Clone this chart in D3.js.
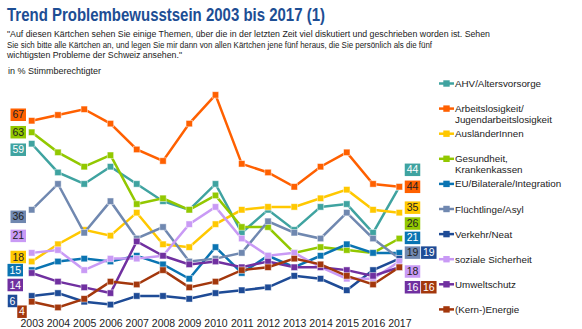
<!DOCTYPE html>
<html>
<head>
<meta charset="utf-8">
<script src="https://cdn.jsdelivr.net/npm/d3@7"></script>
<style>
  body { margin: 0; background: #fff; }
  text { font-family: "Liberation Sans", Arial, sans-serif; }
</style>
</head>
<body>
<script>
// data
var years = [2003, 2004, 2005, 2006, 2007, 2008, 2009, 2010, 2011, 2012, 2013, 2014, 2015, 2016, 2017];

var seriesNames = ["AHV/Altersvorsorge", "Arbeitslosigkeit/\nJugendarbeitslosigkeit", "AusländerInnen",
  "Gesundheit,\nKrankenkassen", "EU/Bilaterale/Integration", "Flüchtlinge/Asyl", "Verkehr/Neat",
  "soziale Sicherheit", "Umweltschutz", "(Kern-)Energie"];

var seriesColors = ["#3fa3a0", "#ff6000", "#ffc800", "#92c800", "#0a74b2", "#7088b0", "#1e4b96", "#c99af5", "#7030a0", "#a3370c"];
var labelTextColors = ["#fff", "#222", "#222", "#222", "#fff", "#222", "#fff", "#222", "#fff", "#fff"];

var ahv          = [59, 49, 45, 51, 45, 39, 36, 45, 28, 36, 29, 37, 38, 28, 44];
var arbeitslos   = [67, 69, 71, 66, 57, 53, 66, 76, 52, 49, 44, 51, 56, 45, 44];
var auslaender   = [18, 24, 29, 27, 35, 24, 23, 31, 36, 37, 37, 40, 43, 36, 35];
var gesundheit   = [63, 56, 51, 55, 38, 40, 36, 41, 30, 30, 21, 23, 22, 21, 26];
var eu           = [15, 18, 19, 18, 20, 17, 12, 23, 14, 20, 16, 20, 24, 21, 21];
var fluechtlinge = [36, 45, 28, 39, 26, 30, 18, 19, 21, 32, 28, 26, 35, 26, 19];
var verkehr      = [6, 7, 4, 3, 6, 6, 5, 7, 8, 9, 13, 12, 8, 15, 19];
var sozial       = [21, 22, 15, 19, 19, 20, 31, 37, 26, 20, 21, 16, 12, 12, 18];
var umwelt       = [14, 11, 9, 7, 25, 20, 17, 18, 16, 18, 16, 16, 15, 13, 16];
var energie      = [4, 2, 5, 11, 10, 15, 9, 11, 15, 16, 19, 17, 13, 10, 16];

var allSeries = [ahv, arbeitslos, auslaender, gesundheit, eu, fluechtlinge, verkehr, sozial, umwelt, energie];

// label placement (pixel nudges so the value boxes don't overlap)
var leftNudge = [
  {dx: 0, dy: 6}, {dx: 0, dy: -6}, {dx: 0, dy: -4.5}, {dx: 0, dy: 0}, {dx: -3, dy: 0},
  {dx: 0, dy: 7}, {dx: -8.75, dy: 5}, {dx: 0, dy: -17}, {dx: -3, dy: 12}, {dx: 0.75, dy: 10}
];
var rightNudge = [
  {col: 0, dy: -17}, {col: 0, dy: 0}, {col: 0, dy: -5}, {col: 0, dy: -15}, {col: 0, dy: -15},
  {col: 0, dy: -6}, {col: 1, dy: -6}, {col: 0, dy: 10}, {col: 0, dy: 20}, {col: 1, dy: 20}
];

var svgWidth = 582;
var svgHeight = 329;

var svg = d3.select("body")
  .append("svg")
  .attr("width", svgWidth)
  .attr("height", svgHeight);

// title + question
svg.append("text")
  .attr("x", 7)
  .attr("y", 21)
  .attr("fill", "#1d4e94")
  .attr("font-weight", "bold")
  .attr("font-size", 18)
  .attr("textLength", 318)
  .attr("lengthAdjust", "spacingAndGlyphs")
  .text("Trend Problembewusstsein 2003 bis 2017 (1)");

var quote = [
  {t: "\"Auf diesen Kärtchen sehen Sie einige Themen, über die in der letzten Zeit viel diskutiert und geschrieben worden ist. Sehen", w: 483},
  {t: "Sie sich bitte alle Kärtchen an, und legen Sie mir dann von allen Kärtchen jene fünf heraus, die Sie persönlich als die fünf", w: 425},
  {t: "wichtigsten Probleme der Schweiz ansehen.\"", w: 175}
];
svg.selectAll(".quote")
  .data(quote)
  .enter()
  .append("text")
  .attr("class", "quote")
  .attr("x", 7)
  .attr("y", (d, i) => 37 + i * 10.6)
  .attr("font-size", 9.6)
  .attr("fill", "#222")
  .attr("textLength", d => d.w)
  .attr("lengthAdjust", "spacingAndGlyphs")
  .text(d => d.t);

svg.append("text")
  .attr("x", 8)
  .attr("y", 74)
  .attr("font-size", 9)
  .attr("fill", "#222")
  .text("in % Stimmberechtigter");

// scales
var xscale = d3.scaleLinear()
  .domain([2003, 2017])
  .range([31.7, 399.3]);

var yscale = d3.scaleLinear()
  .domain([0, 80])
  .range([313.2, 83.4]);

// x axis: only tick labels
var bottomAxis = d3.axisBottom(xscale)
  .tickValues(years)
  .tickFormat(d3.format("d"))
  .tickSize(0)
  .tickPadding(0);

var xAxisG = svg.append("g")
  .attr("transform", "translate(0, 319.5)")
  .call(bottomAxis);
xAxisG.select(".domain").remove();
xAxisG.selectAll("text")
  .attr("font-size", 10.5)
  .attr("fill", "#222")
  .attr("font-family", "Liberation Sans, Arial, sans-serif")
  .attr("dy", "0.72em");

var line = d3.line()
  .x((d, i) => xscale(years[i]))
  .y(d => yscale(d));

var chartGroup = svg.append("g");

allSeries.forEach(function(values, s) {
  var g = chartGroup.append("g");
  g.append("path")
    .attr("d", line(values))
    .attr("fill", "none")
    .attr("stroke", seriesColors[s])
    .attr("stroke-width", 2.5);
  g.selectAll("rect")
    .data(values)
    .enter()
    .append("rect")
    .attr("x", (d, i) => xscale(years[i]) - 3.2)
    .attr("y", d => yscale(d) - 3.2)
    .attr("width", 6.4)
    .attr("height", 6.4)
    .attr("fill", seriesColors[s])
    .attr("stroke", "#fff")
    .attr("stroke-opacity", 0.6)
    .attr("stroke-width", 0.8);
});

// value boxes
function valueBox(cx, cy, value, s) {
  var txt = String(value);
  var w = txt.length > 1 ? 15.5 : 9.5;
  var h = 12.5;
  var g = svg.append("g");
  g.append("rect")
    .attr("x", cx - w / 2)
    .attr("y", cy - h / 2)
    .attr("width", w)
    .attr("height", h)
    .attr("fill", seriesColors[s]);
  g.append("text")
    .attr("x", cx)
    .attr("y", cy + 3.6)
    .attr("text-anchor", "middle")
    .attr("font-size", 10.5)
    .attr("fill", labelTextColors[s])
    .text(txt);
}

allSeries.forEach(function(values, s) {
  var first = values[0];
  var last = values[values.length - 1];
  var lw = String(first).length > 1 ? 15.5 : 9.5;
  valueBox(26 - lw / 2 + leftNudge[s].dx, yscale(first) + leftNudge[s].dy, first, s);
  var rx = rightNudge[s].col === 0 ? 412.5 : 428.8;
  valueBox(rx, yscale(last) + rightNudge[s].dy, last, s);
});

// legend
var legend = svg.append("g")
  .attr("transform", "translate(439, 83.5)");

seriesNames.forEach(function(name, i) {
  var item = legend.append("g")
    .attr("transform", `translate(0, ${i * 25.1})`);
  item.append("line")
    .attr("x1", 0)
    .attr("x2", 15)
    .attr("y1", 0)
    .attr("y2", 0)
    .attr("stroke", seriesColors[i])
    .attr("stroke-width", 2.5);
  item.append("rect")
    .attr("x", 4.3)
    .attr("y", -3.2)
    .attr("width", 6.4)
    .attr("height", 6.4)
    .attr("fill", seriesColors[i]);
  var t = item.append("text")
    .attr("x", 16)
    .attr("y", 3.5)
    .attr("font-size", 9.8)
    .attr("fill", "#222");
  name.split("\n").forEach(function(part, k) {
    t.append("tspan")
      .attr("x", 16)
      .attr("dy", k === 0 ? 0 : 11)
      .text(part);
  });
});
</script>
</body>
</html>
